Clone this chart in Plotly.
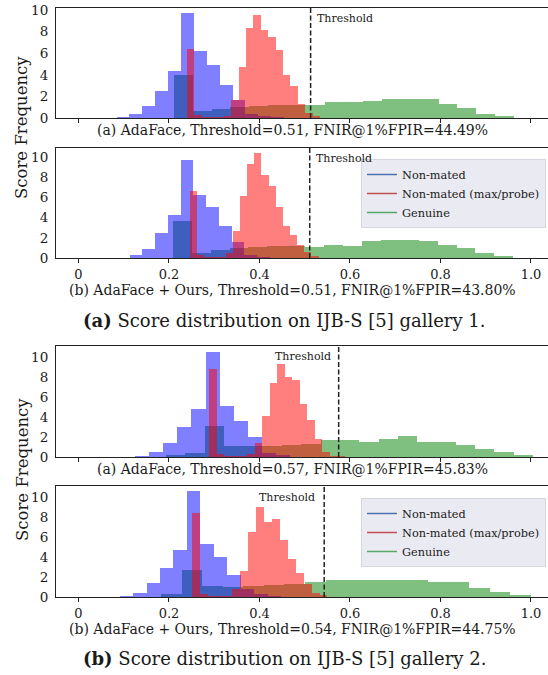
import plotly.graph_objects as go

# ---------------- data ----------------
ticks_x = [0, 0.2, 0.4, 0.6, 0.8, 1.0]
ticklabels_x = ["0", "0.2", "0.4", "0.6", "0.8", "1.0"]
ticks_y = [0, 2, 4, 6, 8, 10]

series_names = ["Non-mated", "Non-mated (max/probe)", "Genuine"]

# panel 1 : gallery 1, AdaFace
blue1_start, blue1_width = -0.0015, 0.0285
blue1 = [0.02, 0.02, 0.03, 0.1, 0.35, 1.1, 2.5, 4.4, 9.75, 6.2, 4.9, 3.1, 1.64, 0.35, 0.15, 0.05]
red1_start, red1_width = 0.2395, 0.01635
red1 = [6.44, 0.3, 0.1, 0.1, 0.1, 0.15, 1.64, 4.77, 8.36, 9.54, 8.2, 7.5, 6.35, 3.96, 2.94, 1.27, 0.45, 0.2]
green1_start, green1_width = 0.2105, 0.0418
green1 = [3.96, 0.62, 0.87, 1.0, 1.15, 1.2, 1.2, 1.2, 1.45, 1.45, 1.54, 1.78, 1.72, 1.72, 1.32, 0.92, 0.4, 0.22]

# panel 2 : gallery 1, AdaFace + Ours
blue2_start, blue2_width = 0.0, 0.0282
blue2 = [0.01, 0.01, 0.02, 0.03, 0.3, 0.96, 2.5, 4.36, 9.77, 6.34, 5.15, 3.27, 1.68, 0.35, 0.15, 0.05]
red2_start, red2_width = 0.2463, 0.0158
red2 = [6.67, 0.3, 0.1, 0.1, 0.1, 0.5, 2.7, 6.24, 9.37, 10.43, 8.3, 7.2, 5.15, 3.27, 2.34, 1.29, 0.6, 0.2, 0.05]
green2_start, green2_width = 0.2085, 0.0418
green2 = [3.76, 0.56, 0.8, 1.0, 1.15, 1.2, 1.2, 1.15, 1.38, 1.2, 1.7, 1.8, 1.8, 1.7, 1.3, 1.08, 0.59, 0.23]

# panel 3 : gallery 2, AdaFace
blue3_start, blue3_width = 0.0, 0.0312
blue3 = [0.01, 0.02, 0.03, 0.05, 0.08, 0.47, 1.4, 3.0, 4.8, 10.5, 5.13, 3.57, 2.0, 0.4, 0.2, 0.05]
red3_start, red3_width = 0.2891, 0.01665
red3 = [8.83, 0.3, 0.1, 0.1, 0.1, 0.3, 1.4, 4.13, 7.4, 9.33, 7.97, 7.67, 5.33, 3.73, 1.8, 0.5, 0.15, 0.1, 0.05]
green3_start, green3_width = 0.1934, 0.0427
green3 = [0.17, 0.4, 3.13, 1.07, 1.07, 1.15, 1.2, 1.3, 1.67, 1.67, 1.5, 1.83, 2.07, 1.47, 1.47, 1.17, 0.77, 0.47, 0.17]

# panel 4 : gallery 2, AdaFace + Ours
blue4_start, blue4_width = 0.002, 0.0297
blue4 = [0.01, 0.01, 0.02, 0.13, 0.45, 1.37, 2.9, 4.73, 10.63, 5.3, 4.0, 2.23, 0.8, 0.35, 0.15, 0.05]
red4_start, red4_width = 0.2517, 0.01756
red4 = [8.4, 0.3, 0.1, 0.1, 0.1, 0.8, 2.6, 6.5, 9.05, 7.55, 7.8, 5.7, 3.86, 2.4, 1.34, 0.45, 0.2, 0.05]
green4_start, green4_width = 0.1828, 0.0454
green4 = [0.33, 2.67, 1.07, 1.0, 1.1, 1.25, 1.35, 1.47, 1.73, 1.67, 1.67, 1.73, 1.73, 1.5, 1.5, 0.93, 0.47, 0.2]

thresholds = [0.513, 0.511, 0.575, 0.543]
xlabels = [
    "(a) AdaFace, Threshold=0.51, FNIR@1%FPIR=44.49%",
    "(b) AdaFace + Ours, Threshold=0.51, FNIR@1%FPIR=43.80%",
    "(a) AdaFace, Threshold=0.57, FNIR@1%FPIR=45.83%",
    "(b) AdaFace + Ours, Threshold=0.54, FNIR@1%FPIR=44.75%",
]
captions = [
    "<b>(a)</b> Score distribution on IJB-S [5] gallery 1.",
    "<b>(b)</b> Score distribution on IJB-S [5] gallery 2.",
]
ylabel = "Score Frequency"

panels = [
    dict(blue=(blue1_start, blue1_width, blue1), red=(red1_start, red1_width, red1), green=(green1_start, green1_width, green1)),
    dict(blue=(blue2_start, blue2_width, blue2), red=(red2_start, red2_width, red2), green=(green2_start, green2_width, green2)),
    dict(blue=(blue3_start, blue3_width, blue3), red=(red3_start, red3_width, red3), green=(green3_start, green3_width, green3)),
    dict(blue=(blue4_start, blue4_width, blue4), red=(red4_start, red4_width, red4), green=(green4_start, green4_width, green4)),
]

# ---------------- layout / style ----------------
W, H = 548, 675
SERIF = "DejaVu Serif"
TXT = "#1a1a1a"
fill = dict(green="rgba(0,128,0,0.5)", blue="rgba(0,0,255,0.5)", red="rgba(255,0,0,0.5)")
legend_line = ["#4C72B0", "#C44E52", "#55A868"]

def py(p):  # pixel from top -> paper y
    return 1 - p / H

def pxx(p):
    return p / W

panel_px = [(8, 118), (147.5, 258), (346, 457), (486, 597)]
ymax = [10.2, 10.95, 11.1, 11.15]
xrange_ = [-0.0497, 1.0376]

fig = go.Figure()
layout = dict(
    template="none",
    width=W, height=H, margin=dict(l=0, r=0, t=0, b=0, pad=0), autosize=False,
    paper_bgcolor="white", plot_bgcolor="white",
    barmode="overlay", bargap=0, showlegend=True,
    font=dict(family=SERIF, color=TXT),
)

for i, pan in enumerate(panels):
    n = "" if i == 0 else str(i + 1)
    for key in ["green", "blue", "red"]:
        start, w, hs = pan[key]
        xs = [start + (k + 0.5) * w for k in range(len(hs))]
        fig.add_trace(go.Bar(
            x=xs, y=hs, width=w, marker=dict(color=fill[key], line=dict(width=0)),
            xaxis="x" + n, yaxis="y" + n, showlegend=False, hoverinfo="skip",
        ))
    top, bot = panel_px[i]
    layout["xaxis" + n] = dict(
        domain=[pxx(56), 1.0], range=xrange_, anchor="y" + n, automargin=False,
        tickvals=ticks_x, ticktext=ticklabels_x, showticklabels=(i % 2 == 1),
        ticks="outside", ticklen=4, tickwidth=1, tickcolor="#222",
        showline=True, linecolor="#222", linewidth=1, mirror=True,
        showgrid=False, zeroline=False,
        tickfont=dict(family=SERIF, size=13, color=TXT),
    )
    layout["yaxis" + n] = dict(
        domain=[py(bot), py(top)], range=[0, ymax[i]], anchor="x" + n, automargin=False,
        tickvals=ticks_y, ticks="", ticklabelstandoff=4,
        showline=True, linecolor="#222", linewidth=1, mirror=True,
        showgrid=False, zeroline=False,
        tickfont=dict(family=SERIF, size=13.5, color=TXT),
    )

# legend entries (panels 2 and 4)
for leg, n in [("legend", "2"), ("legend2", "4")]:
    for name, col in zip(series_names, legend_line):
        fig.add_trace(go.Scatter(
            x=[None], y=[None], mode="lines", name=name,
            line=dict(color=col, width=1.5), xaxis="x" + n, yaxis="y" + n,
            legend=leg, showlegend=True,
        ))

legend_common = dict(
    xanchor="right", yanchor="top", bgcolor="#EAEAF2", bordercolor="#D6D6DE", borderwidth=1,
    font=dict(family=SERIF, size=11.3, color=TXT), itemwidth=30, tracegroupgap=0,
)
layout["legend"] = dict(x=pxx(546), y=py(159), **legend_common)
layout["legend2"] = dict(x=pxx(546), y=py(498), **legend_common)

shapes = []
annotations = []
thr_text_px = [(315, 19, "left"), (314, 158, "left"), (333, 356, "right"), (316.5, 497, "right")]
xlabel_py = [130, 290, 469, 628.5]
for i in range(4):
    n = "" if i == 0 else str(i + 1)
    shapes.append(dict(type="line", xref="x" + n, yref="y" + n + " domain",
                       x0=thresholds[i], x1=thresholds[i], y0=0, y1=1,
                       line=dict(color="#222", width=1.5, dash="5px,2.5px")))
    tx, ty, anc = thr_text_px[i]
    annotations.append(dict(text="Threshold", xref="paper", yref="paper", x=pxx(tx), y=py(ty),
                            xanchor=anc, yanchor="middle", showarrow=False,
                            font=dict(family=SERIF, size=11, color=TXT)))
    annotations.append(dict(text=xlabels[i], xref="paper", yref="paper", x=pxx(292.5), y=py(xlabel_py[i]),
                            xanchor="center", yanchor="middle", showarrow=False,
                            font=dict(family=SERIF, size=14, color=TXT)))

for cy in [128, 470]:
    annotations.append(dict(text=ylabel, xref="paper", yref="paper", x=pxx(22), y=py(cy),
                            xanchor="center", yanchor="middle", textangle=-90, showarrow=False,
                            font=dict(family=SERIF, size=16.5, color=TXT)))

for cap, cy in zip(captions, [321, 658.5]):
    annotations.append(dict(text=cap, xref="paper", yref="paper", x=pxx(284), y=py(cy),
                            xanchor="center", yanchor="middle", showarrow=False,
                            font=dict(family=SERIF, size=18, color=TXT)))

layout["shapes"] = shapes
layout["annotations"] = annotations
fig.update_layout(**layout)
fig.write_html("out.html", config={"displayModeBar": False},
               post_script="document.body.style.margin='0px';document.body.style.padding='0px';")
